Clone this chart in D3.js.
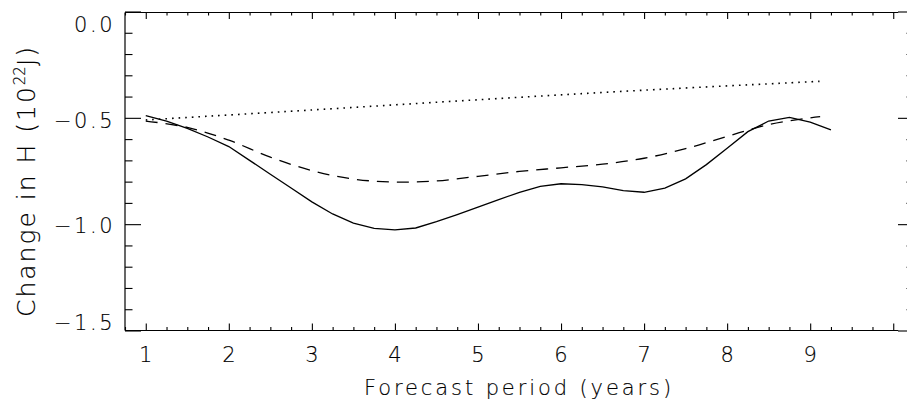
<!DOCTYPE html>
<html><head><meta charset="utf-8">
<script src="https://cdn.jsdelivr.net/npm/d3@7"></script>
<style>
body{margin:0;background:#fff;}
text{font-family:"DejaVu Sans",sans-serif;font-weight:200;fill:#000;stroke:#000;stroke-width:0.15;}
</style></head>
<body><svg id="c" width="907" height="402"></svg>
<script>
// ---- data ----
const solidYears = [1,1.25,1.5,1.75,2,2.25,2.5,2.75,3,3.25,3.5,3.75,4,4.25,4.5,4.75,5,5.25,5.5,5.75,6,6.25,6.5,6.75,7,7.25,7.5,7.75,8,8.25,8.5,8.75,9,9.25];
const solidValues = [-0.49,-0.515,-0.55,-0.59,-0.635,-0.70,-0.765,-0.83,-0.895,-0.952,-0.995,-1.02,-1.027,-1.018,-0.988,-0.955,-0.92,-0.885,-0.85,-0.822,-0.81,-0.814,-0.825,-0.842,-0.85,-0.83,-0.787,-0.72,-0.643,-0.565,-0.515,-0.498,-0.52,-0.557];
const dashedYears = [1,1.5,2,2.5,3,3.5,4,4.5,5,5.5,6,6.5,7,7.5,8,8.5,9,9.12];
const dashedValues = [-0.515,-0.545,-0.605,-0.685,-0.748,-0.788,-0.802,-0.797,-0.775,-0.752,-0.735,-0.718,-0.69,-0.645,-0.587,-0.532,-0.5,-0.494];
const dottedYears = [1,3,5,7,9.13];
const dottedValues = [-0.51,-0.463,-0.415,-0.37,-0.328];
const xTickLabels = ["1","2","3","4","5","6","7","8","9"];
const yTickValues = [0,-0.5,-1.0,-1.5];
const yTickLabels = ["0.0","\u22120.5","\u22121.0","\u22121.5"];
const xLabel = "Forecast period (years)";

// ---- layout ----
const svg = d3.select("#c");
const x = d3.scaleLinear().domain([0.75,10.25]).range([125,914]);
const y = d3.scaleLinear().domain([-1.5,0]).range([330.5,11.5]);
const frameEnd = 10.06;
const y0 = y(-1.5), yTop = 12.5;

const g = svg.append("g");
// frame lines
g.append("line").attr("x1",x(0.75)).attr("x2",x(frameEnd)).attr("y1",y0).attr("y2",y0).attr("stroke","#000").attr("stroke-width",1.2);
g.append("line").attr("x1",x(0.75)).attr("x2",x(frameEnd)).attr("y1",yTop).attr("y2",yTop).attr("stroke","#000").attr("stroke-width",1.2);
g.append("line").attr("x1",x(0.75)).attr("x2",x(0.75)).attr("y1",yTop).attr("y2",y0).attr("stroke","#000").attr("stroke-width",1.2);

const xMajor = d3.range(1,11,1);
const xMinor = d3.range(0.75,10.26,0.25).filter(v=>Math.abs(v-Math.round(v))>1e-6);
const yMajor = [-1.5,-1.0,-0.5,0];
const yMinor = d3.range(-1.4,0,0.1).filter(v=>Math.abs(v*2-Math.round(v*2))>1e-6);

function styleAxis(sel){sel.select(".domain").remove();sel.selectAll(".tick line").attr("stroke","#000").attr("stroke-width",1.1);sel.selectAll("text").remove();}

// bottom
g.append("g").attr("transform",`translate(0,${y0})`).call(d3.axisTop(x).tickValues(xMajor).tickSize(7)).call(styleAxis);
g.append("g").attr("transform",`translate(0,${y0})`).call(d3.axisTop(x).tickValues(xMinor).tickSize(3.5)).call(styleAxis);
// top
g.append("g").attr("transform",`translate(0,${yTop})`).call(d3.axisBottom(x).tickValues(xMajor).tickSize(6.5)).call(styleAxis);
g.append("g").attr("transform",`translate(0,${yTop})`).call(d3.axisBottom(x).tickValues(xMinor).tickSize(3)).call(styleAxis);
// left
g.append("g").attr("transform",`translate(${x(0.75)},0)`).call(d3.axisRight(y).tickValues(yMajor).tickSize(16)).call(styleAxis);
g.append("g").attr("transform",`translate(${x(0.75)},0)`).call(d3.axisRight(y).tickValues(yMinor).tickSize(7.5)).call(styleAxis);
// right
g.append("g").attr("transform",`translate(${x(10.25)},0)`).call(d3.axisLeft(y).tickValues(yMajor).tickSize(16)).call(styleAxis);
g.append("g").attr("transform",`translate(${x(10.25)},0)`).call(d3.axisLeft(y).tickValues(yMinor).tickSize(7.5)).call(styleAxis);

// tick labels
const fs = 21;
g.selectAll(".xl").data(xTickLabels).enter().append("text")
  .attr("x",(d)=>x(+d)).attr("y",362).attr("text-anchor","middle")
  .attr("font-size",fs).text(d=>d);
const yOff = [13,3,1,-8];
g.selectAll(".yl").data(yTickValues).enter().append("text")
  .attr("x",115).attr("y",(d,i)=>y(d)+yOff[i]+7.5).attr("text-anchor","end")
  .attr("font-size",fs).attr("letter-spacing",2.5).text((d,i)=>yTickLabels[i]);

// axis titles
g.append("text").attr("x",519).attr("y",395).attr("text-anchor","middle")
  .attr("font-size",fs).attr("letter-spacing",2.9).text(xLabel);
const yl = g.append("text").attr("transform","translate(35,181) rotate(-90)").attr("text-anchor","middle")
  .attr("font-size",25).attr("letter-spacing",2);
yl.append("tspan").text("Change in H (10");
yl.append("tspan").attr("dy",-10).attr("font-size",15).attr("letter-spacing",0).text("22");
yl.append("tspan").attr("dy",10).text("J)");

// series
const line = d3.line().x(d=>x(d[0])).y(d=>y(d[1]));
const smooth = d3.line().x(d=>x(d[0])).y(d=>y(d[1])).curve(d3.curveCatmullRom);
g.append("path").datum(solidYears.map((t,i)=>[t,solidValues[i]])).attr("d",line)
  .attr("fill","none").attr("stroke","#000").attr("stroke-width",1.3);
g.append("path").datum(dashedYears.map((t,i)=>[t,dashedValues[i]])).attr("d",smooth)
  .attr("fill","none").attr("stroke","#000").attr("stroke-width",1.3).attr("stroke-dasharray","12,8");
g.append("path").datum(dottedYears.map((t,i)=>[t,dottedValues[i]])).attr("d",smooth)
  .attr("fill","none").attr("stroke","#000").attr("stroke-width",1.6).attr("stroke-dasharray","1.6,5");
</script></body></html>
